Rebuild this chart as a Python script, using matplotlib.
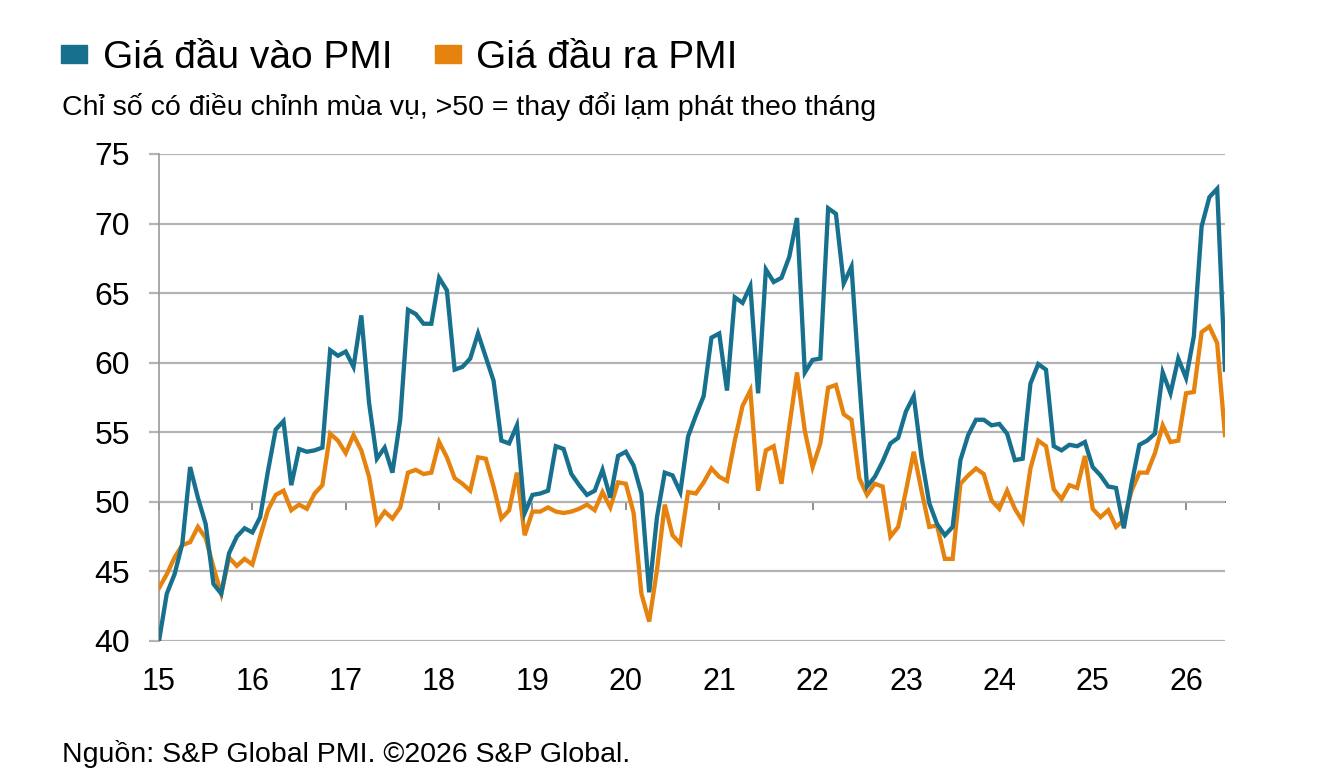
import matplotlib
matplotlib.use("Agg")
import matplotlib.pyplot as plt
from matplotlib.patches import Patch
import numpy as np
import pandas as pd

# monthly series, Jan 2015 .. Jun 2026
input_prices = [
    40.0, 43.4, 44.8, 47.0, 52.5, 50.3, 48.4, 44.1, 43.4, 46.3, 47.5, 48.1,
    47.8, 48.9, 52.2, 55.2, 55.8, 51.2, 53.8, 53.6, 53.7, 53.9, 60.9, 60.5,
    60.8, 59.7, 63.4, 57.1, 53.1, 53.9, 52.1, 55.9, 63.8, 63.5, 62.8, 62.8,
    66.1, 65.2, 59.5, 59.7, 60.3, 62.1, 60.4, 58.7, 54.4, 54.2, 55.5, 49.2,
    50.5, 50.6, 50.8, 54.0, 53.8, 52.0, 51.2, 50.5, 50.8, 52.3, 50.3, 53.3,
    53.6, 52.6, 50.6, 43.5, 48.9, 52.1, 51.9, 50.7, 54.7, 56.2, 57.6, 61.8,
    62.1, 58.0, 64.7, 64.3, 65.5, 57.8, 66.7, 65.8, 66.1, 67.6, 70.4, 59.3,
    60.2, 60.3, 71.1, 70.7, 65.7, 66.9, 58.7, 51.1, 51.8, 52.9, 54.2, 54.6,
    56.5, 57.6, 53.2, 49.9, 48.4, 47.6, 48.2, 53.0, 54.8, 55.9, 55.9, 55.5,
    55.6, 54.9, 53.0, 53.1, 58.5, 59.9, 59.5, 54.0, 53.7, 54.1, 54.0, 54.3,
    52.5, 51.9, 51.1, 51.0, 48.1, 51.3, 54.1, 54.4, 54.9, 59.3, 57.8, 60.3,
    58.9, 61.9, 69.8, 71.9, 72.5, 59.5,
]
output_prices = [
    43.8, 44.8, 46.0, 46.9, 47.1, 48.2, 47.4, 45.3, 43.4, 46.0, 45.4, 45.9,
    45.5, 47.5, 49.4, 50.5, 50.8, 49.4, 49.8, 49.5, 50.6, 51.2, 54.9, 54.4,
    53.5, 54.8, 53.7, 51.8, 48.5, 49.3, 48.8, 49.6, 52.1, 52.3, 52.0, 52.1,
    54.3, 53.2, 51.7, 51.3, 50.8, 53.2, 53.1, 51.1, 48.8, 49.4, 52.1, 47.6,
    49.3, 49.3, 49.6, 49.3, 49.2, 49.3, 49.5, 49.8, 49.4, 50.7, 49.6, 51.4,
    51.3, 49.2, 43.4, 41.4, 45.1, 49.8, 47.6, 47.0, 50.7, 50.6, 51.4, 52.4,
    51.8, 51.5, 54.4, 56.9, 58.0, 50.8, 53.7, 54.0, 51.3, 55.4, 59.3, 55.1,
    52.5, 54.2, 58.2, 58.4, 56.3, 55.9, 51.7, 50.5, 51.3, 51.1, 47.5, 48.2,
    50.8, 53.6, 50.8, 48.2, 48.3, 45.9, 45.9, 51.3, 51.9, 52.4, 52.0, 50.1,
    49.5, 50.8, 49.5, 48.6, 52.4, 54.4, 54.0, 50.9, 50.2, 51.2, 51.0, 53.3,
    49.5, 48.9, 49.4, 48.2, 48.7, 50.8, 52.1, 52.1, 53.5, 55.5, 54.3, 54.4,
    57.8, 57.9, 62.2, 62.6, 61.4, 54.8,
]
year_labels = ["15", "16", "17", "18", "19", "20", "21", "22", "23", "24", "25", "26"]
series_names = ["Giá đầu vào PMI", "Giá đầu ra PMI"]

BLUE = "#18708f"
ORANGE = "#e6820e"
GRID = "#b4b4b4"

plt.rcParams["font.family"] = ["Liberation Sans", "DejaVu Sans"]

dates = pd.date_range("2015-01-01", periods=len(input_prices), freq="MS")
x = np.arange(len(dates))
year_ticks = [i for i, d in enumerate(dates) if d.month == 1]

fig = plt.figure(figsize=(13.25, 7.84), dpi=100)
ax = fig.add_axes([0.120, 0.1824, 0.8045, 0.6212])

ax.plot(x, output_prices, color=ORANGE, lw=3.1, solid_joinstyle="miter", zorder=3)
ax.plot(x, input_prices, color=BLUE, lw=3.1, solid_joinstyle="miter", zorder=4)

ax.set_xlim(0, len(x) - 1)
ax.set_ylim(40, 75)
ax.set_yticks(range(40, 76, 5))
ax.yaxis.grid(True, color=GRID, lw=1.6)
ax.set_axisbelow(True)

for side in ["top", "right", "bottom"]:
    ax.spines[side].set_visible(False)
ax.spines["left"].set_color("#9a9a9a")
ax.spines["left"].set_linewidth(1.2)

ax.tick_params(axis="y", length=7, width=1.6, color=GRID, pad=14, labelsize=23)
ax.set_xticks(year_ticks)
ax.set_xticklabels(year_labels)
ax.tick_params(axis="x", length=0, pad=19, labelsize=22)

# index line at 50 with year tick marks
sec = ax.secondary_xaxis((50 - 40) / 35)
sec.set_xticks(year_ticks)
sec.set_xticklabels([])
sec.tick_params(axis="x", direction="out", length=6, width=1.2, color="#7a7a7a")
sec.spines["bottom"].set_color("#7a7a7a")
sec.spines["bottom"].set_linewidth(1.4)

handles = [Patch(color=BLUE), Patch(color=ORANGE)]
fig.legend(handles, series_names, loc="center left", bbox_to_anchor=(0.046, 0.926),
           ncol=2, frameon=False, fontsize=28, handlelength=0.67, handleheight=0.36,
           handletextpad=0.4, columnspacing=1.1, borderaxespad=0, borderpad=0)

fig.text(0.047, 0.853, "Chỉ số có điều chỉnh mùa vụ, >50 = thay đổi lạm phát theo tháng",
         fontsize=20.5, va="baseline", ha="left")
fig.text(0.047, 0.028, "Nguồn: S&P Global PMI. ©2026 S&P Global.",
         fontsize=20.5, va="baseline", ha="left")

fig.savefig("out.png", dpi=100)
